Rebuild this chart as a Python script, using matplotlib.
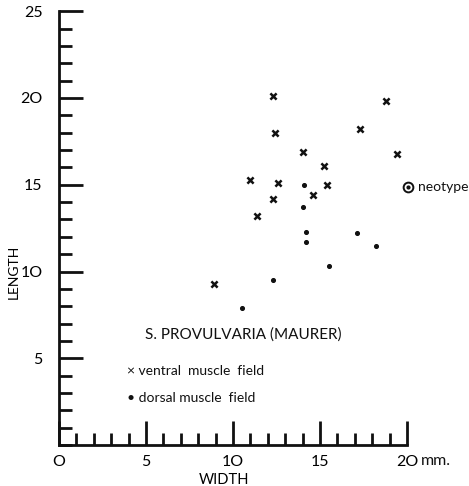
import matplotlib
matplotlib.use('Agg')
import matplotlib.pyplot as plt
from matplotlib.ticker import MultipleLocator
import matplotlib.transforms as mtransforms

plt.rcParams['font.family'] = ['Lato', 'DejaVu Sans']

# ventral muscle field (crosses)
ventral_w = [12.3, 18.8, 12.4, 17.3, 14.0, 19.4, 15.2, 11.0, 12.6, 15.4, 12.3, 14.6, 11.4, 8.9]
ventral_l = [20.1, 19.8, 18.0, 18.2, 16.9, 16.8, 16.1, 15.3, 15.1, 15.0, 14.2, 14.4, 13.2, 9.3]

# dorsal muscle field (dots)
dorsal_w = [14.1, 14.0, 14.2, 14.2, 17.1, 18.2, 15.5, 12.3, 10.5]
dorsal_l = [15.0, 13.7, 12.3, 11.7, 12.2, 11.5, 10.3, 9.5, 7.9]

# neotype
neo_w, neo_l = 20.05, 14.85

x_ticks = [0, 5, 10, 15, 20]
x_ticklabels = ['O', '5', '1O', '15', '2O']
y_ticks = [5, 10, 15, 20, 25]
y_ticklabels = ['5', '1O', '15', '2O', '25']

fig = plt.figure(figsize=(4.69, 4.86), dpi=100)
ax = fig.add_axes([0.126, 0.084, 0.742, 0.893])

ink = '#111111'
ax.scatter(ventral_w, ventral_l, marker='x', s=20, color=ink, linewidths=1.8, clip_on=False)
ax.scatter(dorsal_w, dorsal_l, marker='o', s=7, color=ink, clip_on=False)
ax.plot(neo_w, neo_l, marker='o', ms=7, mfc='white', mec=ink, mew=1.4, clip_on=False)
ax.plot(neo_w, neo_l, marker='o', ms=2, color=ink, clip_on=False)
ax.text(neo_w + 0.6, neo_l, 'neotype', fontsize=10, va='center', ha='left', color=ink)

ax.text(10.6, 6.35, 'S. PROVULVARIA (MAURER)', fontsize=11, ha='center', va='center', color=ink)
ax.text(3.9, 4.3, '\u00d7 ventral  muscle  field', fontsize=10, ha='left', va='center', color=ink)
ax.text(3.9, 2.7, '\u2022 dorsal muscle  field', fontsize=10, ha='left', va='center', color=ink)

ax.set_xlim(0, 20)
ax.set_ylim(0, 25)
for s in ['top', 'right']:
    ax.spines[s].set_visible(False)
for s in ['left', 'bottom']:
    ax.spines[s].set_linewidth(2.0)
    ax.spines[s].set_color(ink)

ax.set_xticks(x_ticks)
ax.set_xticklabels(x_ticklabels)
ax.set_yticks(y_ticks)
ax.set_yticklabels(y_ticklabels)
ax.xaxis.set_minor_locator(MultipleLocator(1))
ax.yaxis.set_minor_locator(MultipleLocator(1))
ax.tick_params(which='major', direction='in', length=17, width=2, color=ink,
               labelsize=11.5, pad=7)
ax.tick_params(which='minor', direction='in', length=9, width=2, color=ink)
ax.tick_params(axis='y', which='major', pad=12)

trans = mtransforms.blended_transform_factory(ax.transData, ax.transAxes)
ax.text(20.8, -0.0375, 'mm.', transform=trans, fontsize=11.5, ha='left', va='center', color=ink)

ax.set_xlabel('WIDTH', fontsize=10.5, labelpad=-1)
ax.xaxis.set_label_coords(0.475, -0.065)
ax.set_ylabel('LENGTH', fontsize=10, labelpad=0)
ax.yaxis.set_label_coords(-0.112, 0.4)

fig.savefig('out.png', dpi=100)
